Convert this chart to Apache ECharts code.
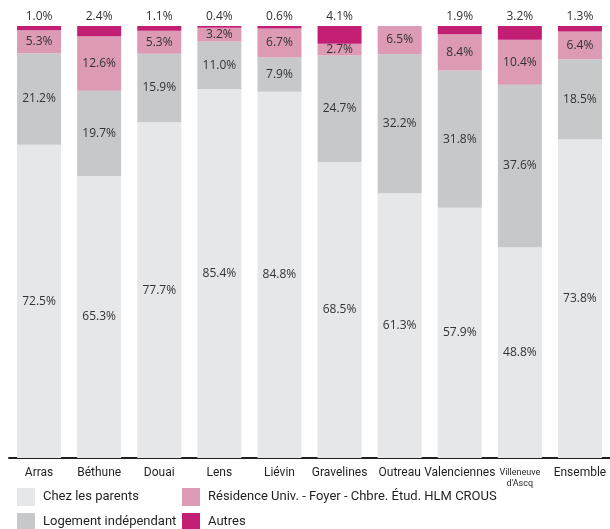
<!DOCTYPE html>
<html>
<head>
<meta charset="utf-8">
<script src="https://cdn.jsdelivr.net/npm/echarts@6/dist/echarts.min.js"></script>
<style>
  html, body { margin: 0; padding: 0; background: #fff; }
  #chart { width: 610px; height: 529px; }
</style>
</head>
<body>
<div id="chart"></div>
<script>
  // communes
  var villes = ['Arras', 'Béthune', 'Douai', 'Lens', 'Liévin', 'Gravelines', 'Outreau', 'Valenciennes', "Villeneuve\nd'Ascq", 'Ensemble']
  // % des étudiants par type de logement
  var chezParents = [72.5, 65.3, 77.7, 85.4, 84.8, 68.5, 61.3, 57.9, 48.8, 73.8]
  var logement = [21.2, 19.7, 15.9, 11.0, 7.9, 24.7, 32.2, 31.8, 37.6, 18.5]
  var residence = [5.3, 12.6, 5.3, 3.2, 6.7, 2.7, 6.5, 8.4, 10.4, 6.4]
  var autres = [1.0, 2.4, 1.1, 0.4, 0.6, 4.1, 0, 1.9, 3.2, 1.3]

  var noms = ['Chez les parents', 'Logement indépendant', 'Résidence Univ. - Foyer - Chbre. Étud. HLM CROUS', 'Autres']
  var couleurs = ['#e6e7e8', '#c7c8ca', '#dc9ab4', '#c21e73']

  var txtFont = "Roboto, sans-serif"
  var labelFont = "'Open Sans', sans-serif"

  function pct(p) {
    return p.value ? p.value.toFixed(1) + '%' : ''
  }

  function serie(i, data, pos) {
    return {
      name: noms[i],
      type: 'bar',
      stack: 'total',
      barWidth: 44,
      data: data,
      itemStyle: { color: couleurs[i] },
      label: {
        show: true,
        position: pos,
        distance: 3,
        formatter: pct,
        color: '#333',
        fontSize: 12,
        fontFamily: labelFont
      },
      emphasis: { disabled: true }
    }
  }

  // one legend per item, laid out in two columns
  var legendPos = [[17, 488], [17, 513], [182, 488], [182, 513]]
  var legends = noms.map(function (n, i) {
    return {
      left: legendPos[i][0],
      top: legendPos[i][1],
      padding: 0,
      itemWidth: 18,
      itemHeight: 18,
      icon: 'rect',
      data: [n],
      textStyle: { fontFamily: txtFont, fontSize: 13, color: '#231f20', padding: [0, 0, 0, 3] }
    }
  })

  var chart = echarts.init(document.getElementById('chart'))
  chart.setOption({
    animation: false,
    grid: {
      left: 9,
      right: 0,
      top: 26,
      bottom: 71
    },
    legend: legends,
    xAxis: {
      type: 'category',
      data: villes,
      axisTick: { show: false },
      axisLine: { lineStyle: { color: '#231f20', width: 2 } },
      axisLabel: {
        interval: 0,
        margin: 9,
        fontFamily: txtFont,
        fontSize: 12,
        color: '#231f20',
        formatter: function (v) {
          return v.indexOf('\n') >= 0 ? '{s|' + v.replace('\n', '}\n{s|') + '}' : v
        },
        rich: {
          s: { fontFamily: txtFont, fontSize: 9, lineHeight: 11, color: '#231f20' }
        }
      }
    },
    yAxis: {
      type: 'value',
      min: 0,
      max: 100,
      show: false
    },
    series: [
      serie(0, chezParents, 'inside'),
      serie(1, logement, 'inside'),
      serie(2, residence, 'inside'),
      serie(3, autres, 'top')
    ]
  })
</script>
</body>
</html>
